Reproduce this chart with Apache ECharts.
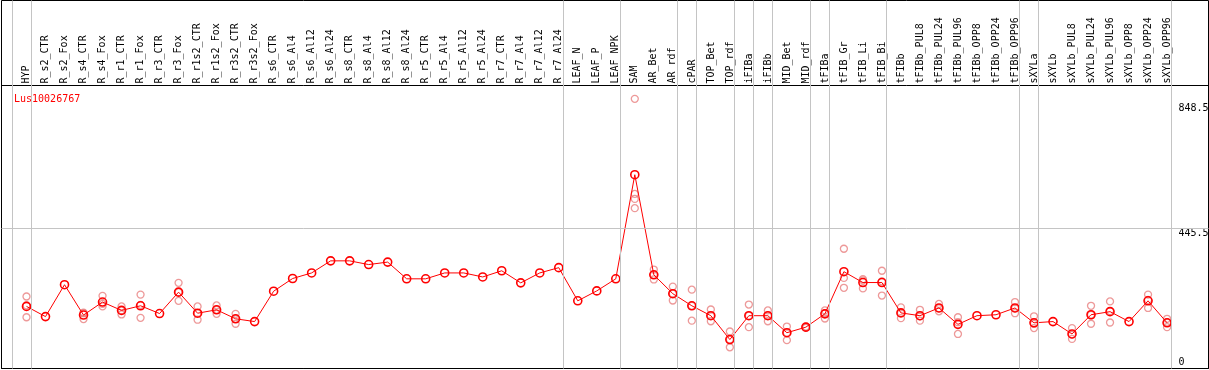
<!DOCTYPE html>
<html>
<head>
<meta charset="utf-8">
<script src="https://cdn.jsdelivr.net/npm/echarts@6/dist/echarts.min.js"></script>
<style>
html,body{margin:0;padding:0;background:#fff;}
#chart{width:1209px;height:370px;}
</style>
</head>
<body>
<div id="chart"></div>
<script>
const titleText = 'Lus10026767';
const categories = ['HYP','R_s2_CTR','R_s2_Fox','R_s4_CTR','R_s4_Fox','R_r1_CTR','R_r1_Fox','R_r3_CTR','R_r3_Fox','R_r1s2_CTR','R_r1s2_Fox','R_r3s2_CTR','R_r3s2_Fox','R_s6_CTR','R_s6_Al4','R_s6_Al12','R_s6_Al24','R_s8_CTR','R_s8_Al4','R_s8_Al12','R_s8_Al24','R_r5_CTR','R_r5_Al4','R_r5_Al12','R_r5_Al24','R_r7_CTR','R_r7_Al4','R_r7_Al12','R_r7_Al24','LEAF_N','LEAF_P','LEAF_NPK','SAM','AR_Bet','AR_rdf','cPAR','TOP_Bet','TOP_rdf','iFIBa','iFIBb','MID_Bet','MID_rdf','tFIBa','tFIB_Gr','tFIB_Li','tFIB_Bi','tFIBb','tFIBb_PUL8','tFIBb_PUL24','tFIBb_PUL96','tFIBb_OPP8','tFIBb_OPP24','tFIBb_OPP96','sXYLa','sXYLb','sXYLb_PUL8','sXYLb_PUL24','sXYLb_PUL96','sXYLb_OPP8','sXYLb_OPP24','sXYLb_OPP96'];
const meanValues = [194,161,264,166,208,181,196,171,240,172,183,154,145,243,284,302,341,341,329,337,283,283,302,302,289,309,270,302,319,212,244,283,619,296,235,196,164,87,164,164,109,127,170,306,271,271,173,164,189,136,164,167,189,141,145,105,167,177,145,212,141];
const rep1 = [226,null,null,174,228,194,232,null,270,194,197,170,null,null,null,null,null,null,null,null,null,null,null,null,null,null,null,null,null,null,null,null,864,313,258,248,184,113,200,181,129,129,181,380,282,309,191,183,202,159,null,null,208,162,null,124,196,210,null,232,154];
const rep2 = [197,null,null,172,202,181,199,null,240,172,183,154,null,null,null,null,null,null,null,null,null,null,null,null,null,null,null,null,null,null,null,null,557,296,235,196,164,87,164,164,109,127,172,286,278,275,173,162,188,143,null,null,188,138,null,103,167,179,null,215,142];
const rep3 = [159,null,null,153,194,168,157,null,212,151,170,138,null,null,null,null,null,null,null,null,null,null,null,null,null,null,null,null,null,null,null,null,541,281,213,148,146,62,127,146,85,125,155,254,252,229,156,148,178,105,null,null,172,124,null,89,138,142,null,189,127];
const rep4 = [null,null,null,null,null,null,null,null,null,null,null,null,null,null,null,null,null,null,null,null,null,null,null,null,null,null,null,null,null,null,null,null,511,null,null,null,null,null,null,null,null,null,null,null,null,null,null,null,null,null,null,null,null,null,null,null,null,null,null,null,null];
const yTickValues = [0, 445.5, 848.5];
const yGridValues = [445.5];
const groupEnds = [-1,0,28,31,34,35,37,38,39,41,42,45,52,53,60];

const FONT = 'DejaVu Sans Mono';
const X_MIN = -1.315, X_MAX = 62.18;
const LINE_OFF = 0.24;
const GRAY = '#c4c4c4';

const repSeries = [rep1, rep2, rep3, rep4].map(function (arr) {
  const d = [];
  arr.forEach(function (v, i) { if (v !== null) d.push([i, v]); });
  return d;
});
const repData = [].concat.apply([], repSeries);

const chart = echarts.init(document.getElementById('chart'), null, {renderer: 'canvas'});
chart.setOption({
  animation: false,
  backgroundColor: '#fff',
  title: {
    text: titleText, left: 9, top: 89,
    textStyle: {color: '#ff0000', fontSize: 10, fontWeight: 'normal', fontFamily: FONT}
  },
  grid: [
    {left: 1.5, top: 85.5, width: 1207, height: 283, show: true, borderColor: '#000', borderWidth: 1, backgroundColor: 'transparent', containLabel: false, outerBoundsMode: 'none'},
    {left: 1.5, top: 0.5, width: 1207, height: 368, show: true, borderColor: '#000', borderWidth: 1, backgroundColor: 'transparent', containLabel: false, outerBoundsMode: 'none'},
    {left: 17, top: 85.5, width: 1159.7, height: 283, show: false, containLabel: false, outerBoundsMode: 'none'}
  ],
  xAxis: [
    {type: 'value', gridIndex: 0, min: X_MIN, max: X_MAX, show: false},
    {type: 'value', gridIndex: 1, min: X_MIN, max: X_MAX, show: false},
    {type: 'category', gridIndex: 2, data: categories, position: 'top', boundaryGap: true,
     axisLine: {show: false}, axisTick: {show: false}, splitLine: {show: false},
     axisLabel: {rotate: 90, margin: 2, interval: 0, color: '#000', fontSize: 10, fontFamily: FONT}}
  ],
  yAxis: [
    {type: 'value', gridIndex: 0, min: -6.46, max: 907, position: 'right',
     axisLine: {show: false}, axisTick: {show: false}, splitLine: {show: false},
     axisLabel: {
       inside: true, margin: 30, align: 'left', verticalAlign: 'middle',
       customValues: yTickValues, color: '#000', fontSize: 10, fontFamily: FONT,
       formatter: function (v) { return v === 0 ? '{b|0}' : '{t|' + v + '}'; },
       rich: {
         t: {fontSize: 10, fontFamily: FONT, color: '#000', lineHeight: 10, padding: [9, 0, 0, 0]},
         b: {fontSize: 10, fontFamily: FONT, color: '#000', lineHeight: 10, padding: [0, 0, 9, 0]}
       }
     }},
    {type: 'value', gridIndex: 1, min: 0, max: 1, show: false},
    {type: 'value', gridIndex: 2, show: false}
  ],
  series: [
    {
      type: 'scatter', xAxisIndex: 1, yAxisIndex: 1, silent: true,
      data: [[X_MIN, -1]], symbolSize: 0, z: 1,
      markLine: {
        silent: true, symbol: 'none', label: {show: false},
        lineStyle: {color: GRAY, width: 1, type: 'solid'},
        data: groupEnds.map(function (g) { return {xAxis: g + LINE_OFF}; })
      }
    },
    {
      type: 'scatter', xAxisIndex: 0, yAxisIndex: 0, silent: true, z: 2,
      data: repData, symbol: 'circle', symbolSize: 7,
      itemStyle: {color: 'rgba(0,0,0,0)', borderColor: '#e88080', borderWidth: 1.3},
      markLine: {
        silent: true, symbol: 'none', label: {show: false},
        lineStyle: {color: GRAY, width: 1, type: 'solid'},
        data: yGridValues.map(function (v) { return {yAxis: v}; })
      }
    },
    {
      type: 'line', xAxisIndex: 0, yAxisIndex: 0, silent: true, z: 3,
      data: meanValues.map(function (v, i) { return [i, v]; }),
      symbol: 'circle', symbolSize: 8, showAllSymbol: true,
      lineStyle: {color: '#ff0000', width: 1},
      itemStyle: {color: 'rgba(0,0,0,0)', borderColor: '#ff0000', borderWidth: 1.6}
    }
  ]
});
</script>
</body>
</html>
